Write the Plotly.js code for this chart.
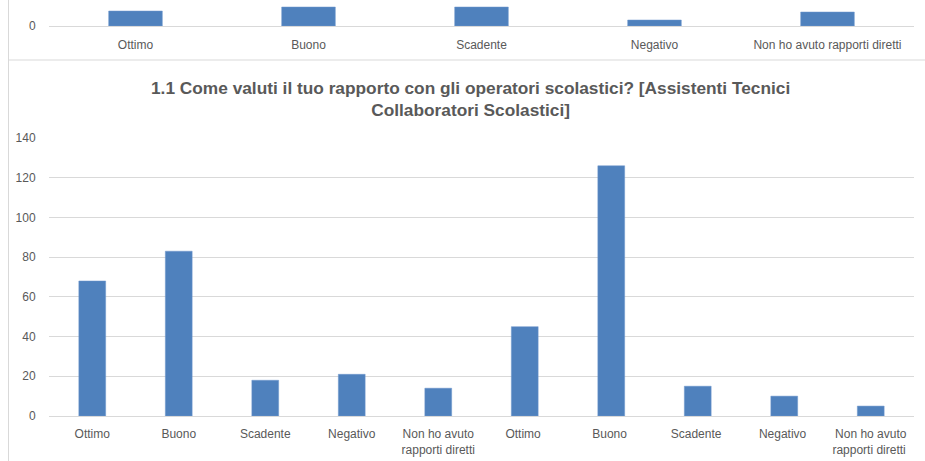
<!DOCTYPE html>
<html>
<head>
<meta charset="utf-8">
<script src="https://cdn.plot.ly/plotly-3.0.1.min.js"></script>
<style>html,body{margin:0;padding:0;background:#fff;}#chart{width:925px;height:461px;}</style>
</head>
<body>
<div id="chart"></div>
<script>
// Main chart data
const categories = ["Ottimo", "Buono", "Scadente", "Negativo", "Non ho avuto<br>rapporti diretti",
                    "Ottimo ", "Buono ", "Scadente ", "Negativo ", "Non ho avuto<br>rapporti diretti "];
const values = [68, 83, 18, 21, 14, 45, 126, 15, 10, 5];
const yTicks = [0, 20, 40, 60, 80, 100, 120, 140];

// Partially visible chart above (cut off by the frame)
const topCategories = ["Ottimo", "Buono", "Scadente", "Negativo", "Non ho avuto rapporti diretti"];
const topValues = [15, 19, 19, 6, 14];

const titleText = "1.1 Come valuti il tuo rapporto con gli operatori scolastici? [Assistenti Tecnici<br>Collaboratori Scolastici]";

const W = 925, H = 461;
const px = x => x / W;
const py = y => (H - y) / H;

const barColor = "#4f81bd";
const tickFont = {family: "'Liberation Sans Narrow', 'Liberation Sans', Arial, sans-serif", size: 12, color: "#595959"};

const traces = [
  {type: "bar", x: categories, y: values, xaxis: "x", yaxis: "y",
   marker: {color: barColor, line: {color: "#6f97cc", width: 0.5}}, hoverinfo: "x+y"},
  {type: "bar", x: topCategories, y: topValues, xaxis: "x2", yaxis: "y2",
   marker: {color: barColor, line: {color: "#6f97cc", width: 0.5}}, hoverinfo: "x+y"}
];

const layout = {
  width: W, height: H,
  margin: {l: 0, r: 0, t: 0, b: 0},
  paper_bgcolor: "#ffffff", plot_bgcolor: "#ffffff",
  showlegend: false,
  bargap: 0.69,
  xaxis: {domain: [px(49), px(914)], anchor: "y", type: "category",
          tickfont: tickFont, ticks: "outside", ticklen: 7, tickcolor: "rgba(0,0,0,0)",
          showgrid: false, zeroline: false, showline: false, fixedrange: true, automargin: false},
  yaxis: {domain: [py(416), py(138)], anchor: "x", range: [0, 140], tickvals: yTicks,
          tickfont: tickFont, ticks: "outside", ticklen: 10, tickcolor: "rgba(0,0,0,0)",
          showgrid: true, gridcolor: "#d9d9d9", gridwidth: 1,
          zeroline: true, zerolinecolor: "#d9d9d9", zerolinewidth: 1,
          showline: false, fixedrange: true, automargin: false},
  xaxis2: {domain: [px(49), px(914)], anchor: "y2", type: "category",
          tickfont: tickFont, ticks: "outside", ticklen: 8, tickcolor: "rgba(0,0,0,0)",
          showgrid: false, zeroline: false, showline: false, fixedrange: true, automargin: false},
  yaxis2: {domain: [py(26), 1], anchor: "x2", range: [0, 26], tickvals: [0],
          tickfont: tickFont, ticks: "outside", ticklen: 10, tickcolor: "rgba(0,0,0,0)",
          showgrid: true, gridcolor: "#d9d9d9", zeroline: true, zerolinecolor: "#d9d9d9",
          showline: false, fixedrange: true, automargin: false},
  annotations: [{
    text: titleText, xref: "paper", yref: "paper", x: px(470), y: py(99),
    xanchor: "center", yanchor: "middle", showarrow: false, align: "center",
    font: {family: "'Liberation Sans Narrow', 'Liberation Sans', Arial, sans-serif", size: 17.3, color: "#595959", weight: "bold"}
  }],
  shapes: [
    {type: "line", xref: "paper", yref: "paper", x0: px(8.5), x1: px(8.5), y0: 0, y1: 1,
     line: {color: "#d9d9d9", width: 1}},
    {type: "line", xref: "paper", yref: "paper", x0: px(8.5), x1: 1, y0: py(60), y1: py(60),
     line: {color: "#d9d9d9", width: 1}}
  ]
};

Plotly.newPlot("chart", traces, layout, {displayModeBar: false, staticPlot: true});
</script>
</body>
</html>
